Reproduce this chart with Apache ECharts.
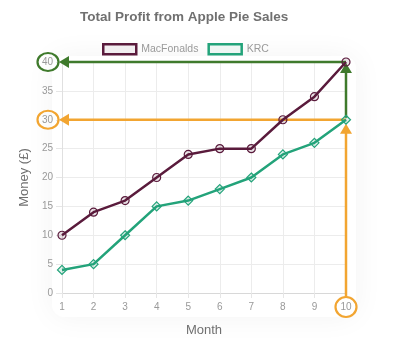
<!DOCTYPE html>
<html>
<head>
<meta charset="utf-8">
<script src="https://cdn.jsdelivr.net/npm/echarts@6/dist/echarts.min.js"></script>
<style>
  html, body { margin: 0; padding: 0; background: #fff; }
  #chart { width: 393px; height: 339px; }
</style>
</head>
<body>
<div id="chart"></div>
<script>
// Monthly running totals of apple pie profit
const months = ['1', '2', '3', '4', '5', '6', '7', '8', '9', '10'];
const macFonalds = [10, 14, 16, 20, 24, 25, 25, 30, 34, 40];
const krc = [4, 5, 10, 15, 16, 18, 20, 24, 26, 30];

// Highlighted readings: final month and each chain's total at that month
const focusMonth = '10';
const macTotal = 40;
const krcTotal = 30;

const MAROON = '#5a1b3c';
const GREEN = '#23a37a';
const OLIVE = '#3f7a2c';
const ORANGE = '#f2a531';
const GRID = { left: 62, right: 47, top: 62, bottom: 46 };

const chart = echarts.init(document.getElementById('chart'), null, { renderer: 'canvas' });

const diamond = 'path://M0,-1L1,0L0,1L-1,0Z';

chart.setOption({
  animation: false,
  backgroundColor: '#fff',
  textStyle: { fontFamily: 'Liberation Sans, Arial, sans-serif' },
  title: {
    text: 'Total Profit from Apple Pie Sales',
    left: 80, top: 10, padding: 0,
    textStyle: { fontSize: 13.5, fontWeight: 'bold', color: '#707070' }
  },
  legend: {
    left: 102, top: 43, padding: 0,
    itemWidth: 33, itemHeight: 10, itemGap: 9,
    textStyle: { fontSize: 10.5, color: '#9a9a9a' },
    data: [
      { name: 'MacFonalds', icon: 'rect',
        itemStyle: { color: 'rgba(90,27,60,0.06)', borderColor: MAROON, borderWidth: 2.5 } },
      { name: 'KRC', icon: 'rect',
        itemStyle: { color: 'rgba(35,163,122,0.06)', borderColor: GREEN, borderWidth: 2.5 } }
    ]
  },
  grid: Object.assign({ outerBoundsMode: 'none', containLabel: false }, GRID),
  xAxis: {
    type: 'category', data: months, boundaryGap: false,
    name: 'Month', nameLocation: 'middle', nameGap: 31,
    nameTextStyle: { fontSize: 13, color: '#707070' },
    axisLine: { lineStyle: { color: '#d8d8d8', width: 1 } },
    axisTick: { show: true, length: 5, lineStyle: { color: '#e6e6e6' } },
    axisLabel: { fontSize: 10, color: '#999', margin: 9 },
    splitLine: { show: true, lineStyle: { color: '#ececec', width: 1 } }
  },
  yAxis: {
    type: 'value', min: 0, max: 40, interval: 5,
    name: 'Money (£)', nameLocation: 'middle', nameGap: 30, nameRotate: 90,
    nameTextStyle: { fontSize: 13, color: '#707070' },
    axisLine: { show: true, lineStyle: { color: '#e0e0e0', width: 1 } },
    axisTick: { show: true, length: 6, lineStyle: { color: '#e6e6e6' } },
    axisLabel: { fontSize: 10, color: '#999', margin: 9 },
    splitLine: { show: true, lineStyle: { color: '#ececec', width: 1 } }
  },
  series: [
    {
      name: 'MacFonalds', type: 'line', data: macFonalds, z: 5,
      symbol: 'circle', symbolSize: 8,
      lineStyle: { color: MAROON, width: 2.5 },
      itemStyle: { color: 'rgba(90,27,60,0.12)', borderColor: MAROON, borderWidth: 1.2 }
    },
    {
      name: 'KRC', type: 'line', data: krc, z: 5,
      symbol: diamond, symbolSize: 9,
      lineStyle: { color: GREEN, width: 2.5 },
      itemStyle: { color: 'rgba(35,163,122,0.15)', borderColor: GREEN, borderWidth: 1.2 }
    }
  ]
});

// Annotation overlay: arrows tying the final totals to their axis labels
function px(month, value) {
  return chart.convertToPixel({ xAxisIndex: 0, yAxisIndex: 0 }, [months.indexOf(month), value]);
}
function arrowHead(tip, dir, color) {
  const L = 10, W = 6;
  let pts;
  if (dir === 'left') pts = [[tip[0], tip[1]], [tip[0] + L, tip[1] - W], [tip[0] + L, tip[1] + W]];
  else pts = [[tip[0], tip[1]], [tip[0] - W, tip[1] + L], [tip[0] + W, tip[1] + L]];
  return { type: 'polygon', z: 3, shape: { points: pts }, style: { fill: color } };
}
function seg(a, b, color) {
  return { type: 'line', z: 3, shape: { x1: a[0], y1: a[1], x2: b[0], y2: b[1] },
    style: { stroke: color, lineWidth: 2.5 } };
}
function ring(c, rx, ry, color) {
  return { type: 'ellipse', z: 3, shape: { cx: c[0], cy: c[1], rx: rx, ry: ry },
    style: { fill: 'none', stroke: color, lineWidth: 2.2 } };
}

const pMac = px(focusMonth, macTotal);
const pKrc = px(focusMonth, krcTotal);
const pBase = px(focusMonth, 0);
const labelCx = GRID.left - 14;
const tipX = GRID.left - 3;

chart.setOption({
  graphic: [
    // faint haze around the plot panel
    { type: 'rect', z: -10, silent: true,
      shape: { x: GRID.left - 10, y: GRID.top - 6, width: 393 - GRID.left - GRID.right + 20, height: 339 - GRID.top - GRID.bottom + 30, r: 12 },
      style: { fill: '#fff', shadowBlur: 30, shadowColor: 'rgba(0,0,0,0.05)' } },
    // green: MacFonalds total
    seg([pMac[0], pMac[1]], [tipX + 8, pMac[1]], OLIVE),
    arrowHead([tipX, pMac[1]], 'left', OLIVE),
    seg([pKrc[0], pKrc[1] - 2], [pMac[0], pMac[1] + 9], OLIVE),
    arrowHead([pMac[0], pMac[1] + 1], 'up', OLIVE),
    ring([labelCx, pMac[1]], 10.5, 9, OLIVE),
    // orange: KRC total
    seg([pKrc[0], pKrc[1]], [tipX + 8, pKrc[1]], ORANGE),
    arrowHead([tipX, pKrc[1]], 'left', ORANGE),
    seg([pBase[0], pBase[1] + 4], [pKrc[0], pKrc[1] + 12], ORANGE),
    arrowHead([pKrc[0], pKrc[1] + 4], 'up', ORANGE),
    ring([labelCx, pKrc[1]], 10.5, 9, ORANGE),
    ring([pBase[0], pBase[1] + 14], 10.5, 10, ORANGE)
  ]
});
</script>
</body>
</html>
